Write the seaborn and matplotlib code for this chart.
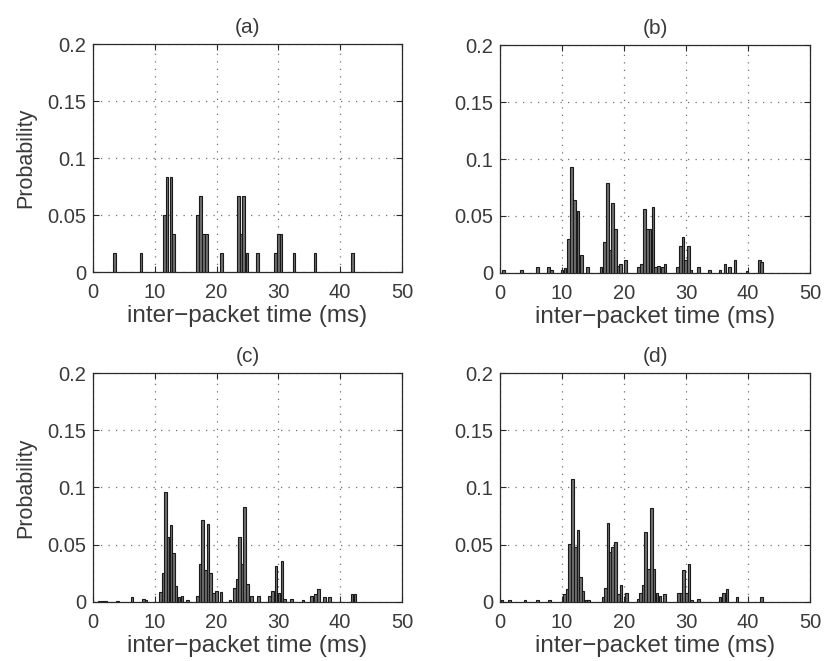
import numpy as np
import pandas as pd
import matplotlib
matplotlib.use("Agg")
import matplotlib.pyplot as plt
import seaborn as sns

# ---------------- data ----------------
a_t = [3.5, 7.8, 11.55, 12.0, 12.6, 13.05, 16.95, 17.4, 17.9, 18.4, 20.8,
       23.55, 24.0, 24.4, 24.9, 26.6, 29.55, 30.0, 30.45, 32.5, 35.9, 42.0]
a_p = [0.0167, 0.0167, 0.05, 0.0833, 0.0833, 0.0333, 0.05, 0.0667, 0.0333, 0.0333, 0.0167,
       0.0667, 0.0333, 0.0667, 0.0167, 0.0167, 0.0167, 0.0333, 0.0333, 0.0167, 0.0167, 0.0167]

b_t = [0.6, 3.5, 6.0, 7.8, 8.3, 10.0, 10.5, 11.0, 11.5, 12.05, 12.6, 13.1, 14.1,
       16.3, 16.85, 17.3, 17.75, 18.15, 18.6, 19.05, 19.45, 20.2,
       22.3, 22.8, 23.3, 23.75, 24.2, 24.65, 25.1, 25.6, 26.2, 26.6,
       28.6, 29.1, 29.5, 29.9, 30.35, 30.8, 32.0, 33.8, 35.5, 36.3, 37.0, 37.9,
       39.8, 41.8, 42.2]
b_p = [0.003, 0.003, 0.005, 0.005, 0.003, 0.003, 0.004, 0.030, 0.093, 0.064, 0.054, 0.016, 0.005,
       0.005, 0.027, 0.079, 0.020, 0.061, 0.039, 0.006, 0.008, 0.011,
       0.005, 0.008, 0.056, 0.039, 0.039, 0.058, 0.005, 0.006, 0.005, 0.008,
       0.005, 0.024, 0.032, 0.011, 0.024, 0.003, 0.005, 0.003, 0.003, 0.008, 0.005, 0.011,
       0.002, 0.011, 0.010]

c_t = [1.0, 1.5, 2.0, 4.0, 6.3, 8.2, 8.6, 10.95, 11.35, 11.75, 12.15, 12.6, 13.0, 13.45,
       13.95, 14.4, 15.3, 16.9, 17.3, 17.75, 18.2, 18.6, 19.05, 19.5, 20.0, 20.75,
       22.2, 22.9, 23.3, 23.7, 24.1, 24.55, 25.0, 25.7, 26.8,
       28.6, 29.05, 29.6, 30.1, 30.6, 31.0, 32.1, 34.0, 35.4, 36.0, 36.5,
       37.5, 38.3, 41.9, 42.4]
c_p = [0.001, 0.001, 0.001, 0.001, 0.004, 0.003, 0.002, 0.009, 0.025, 0.096, 0.057, 0.067, 0.043, 0.014,
       0.004, 0.005, 0.002, 0.005, 0.033, 0.072, 0.028, 0.068, 0.025, 0.0075, 0.010, 0.009,
       0.002, 0.012, 0.020, 0.057, 0.033, 0.083, 0.016, 0.005, 0.005,
       0.005, 0.010, 0.031, 0.0075, 0.036, 0.003, 0.003, 0.002, 0.005, 0.007, 0.0116,
       0.004, 0.004, 0.007, 0.007]

d_t = [0.3, 1.5, 4.0, 6.0, 8.0, 10.4, 10.85, 11.25, 11.7, 12.15, 12.6, 13.0, 13.4,
       13.9, 14.3, 16.6, 17.0, 17.4, 17.8, 18.15, 18.6, 19.1, 19.5, 20.4,
       22.3, 22.7, 23.1, 23.5, 23.9, 24.4, 24.85, 25.3, 25.8, 26.5,
       28.8, 29.2, 29.6, 30.05, 30.5, 30.9, 32.0, 35.5, 36.0, 36.6, 38.2, 42.2]
d_p = [0.002, 0.002, 0.002, 0.002, 0.002, 0.007, 0.011, 0.051, 0.107, 0.048, 0.063, 0.022, 0.010,
       0.002, 0.002, 0.004, 0.012, 0.069, 0.044, 0.048, 0.052, 0.007, 0.015, 0.0076,
       0.003, 0.008, 0.015, 0.061, 0.029, 0.082, 0.029, 0.008, 0.005, 0.007,
       0.008, 0.008, 0.028, 0.008, 0.033, 0.002, 0.003, 0.004, 0.008, 0.011, 0.004, 0.004]

panel_titles = ["(a)", "(b)", "(c)", "(d)"]
x_label = "inter\u2212packet time (ms)"
y_label = "Probability"
x_ticks = [0, 10, 20, 30, 40, 50]
y_ticks = [0, 0.05, 0.1, 0.15, 0.2]
y_ticklabels = ["0", "0.05", "0.1", "0.15", "0.2"]

series = [(a_t, a_p), (b_t, b_p), (c_t, c_p), (d_t, d_p)]

# ---------------- style ----------------
sns.set_theme(style="white")
plt.rcParams["font.family"] = ["Liberation Sans", "DejaVu Sans"]
text_col = "#3a3a3a"

fig = plt.figure(figsize=(8.25, 6.61), dpi=100)
positions = [
    [0.1127, 0.5885, 0.3745, 0.3449],
    [0.6061, 0.5870, 0.3758, 0.3449],
    [0.1127, 0.0893, 0.3745, 0.3464],
    [0.6061, 0.0893, 0.3758, 0.3464],
]

bar_w_ms = 0.42
for i, ((t, p), pos) in enumerate(zip(series, positions)):
    ax = fig.add_axes(pos)
    df = pd.DataFrame({"t": t, "p": p})
    min_gap = np.min(np.diff(np.unique(df["t"].values)))
    sns.barplot(data=df, x="t", y="p", native_scale=True, errorbar=None,
                width=bar_w_ms / min_gap, color="#6e6e6e", saturation=1,
                edgecolor="#1a1a1a", linewidth=0.8, ax=ax, zorder=3)
    ax.set_xlim(0, 50)
    ax.set_ylim(0, 0.2)
    ax.set_xticks(x_ticks)
    ax.set_xticklabels([str(v) for v in x_ticks])
    ax.set_yticks(y_ticks)
    ax.set_yticklabels(y_ticklabels)
    ax.grid(True, linestyle=(0, (1, 5)), color="#707070", linewidth=0.9, zorder=0)
    ax.set_axisbelow(True)
    for s in ax.spines.values():
        s.set_visible(True)
        s.set_color("#2a2a2a")
        s.set_linewidth(0.9)
    ax.tick_params(direction="in", length=4, width=0.8, color="#2a2a2a",
                   top=True, right=True, bottom=True, left=True,
                   labelsize=14.5, labelcolor=text_col)
    ax.tick_params(axis="x", pad=8)
    ax.tick_params(axis="y", pad=5)
    ax.set_xlabel(x_label, fontsize=17.5, color=text_col, labelpad=2)
    if i % 2 == 0:
        ax.set_ylabel(y_label, fontsize=15.5, color=text_col, labelpad=8)
    else:
        ax.set_ylabel("")
    ax.set_title(panel_titles[i], fontsize=15, color=text_col, pad=8)

fig.savefig("out.png", dpi=100, facecolor="white")
